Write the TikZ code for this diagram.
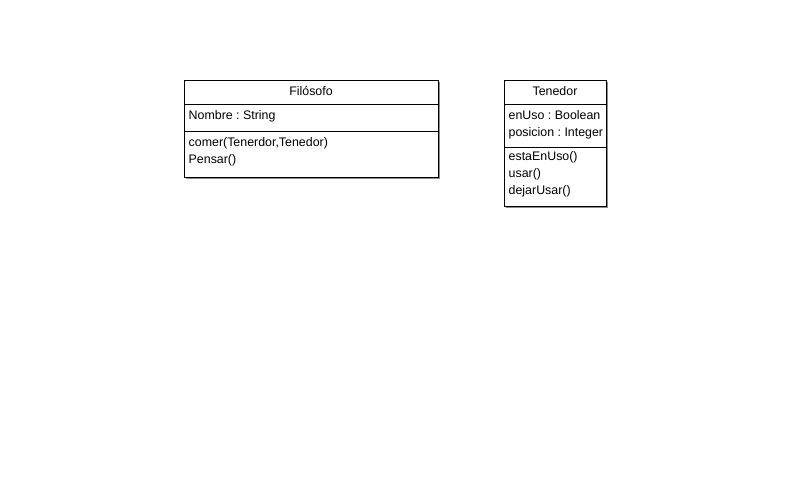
\documentclass[tikz,border=0pt]{standalone}
\usepackage{fontspec}
\setmainfont{Liberation Sans}
\frenchspacing
\begin{document}
\begin{tikzpicture}[x=1pt,y=-1pt,font=\fontsize{12.4}{14}\selectfont]
      \useasboundingbox (0,0) rectangle (790,494);
      % Filosofo
      \fill[black!45] (186,82) rectangle (440,179);
      \draw[black, fill=white] (184,80) rectangle (438,177);
      \draw[black] (184,104) -- (438,104);
      \draw[black] (184,131) -- (438,131);
      \node[anchor=base, inner sep=0] (filosofo) at (311,95.5) {Filósofo};
      \node[anchor=base west, inner sep=0] (nombre) at (188.5,119.5) {Nombre : String};
      \node[anchor=base west, inner sep=0] (comer) at (188.5,147) {comer(Tenerdor,Tenedor)};
      \node[anchor=base west, inner sep=0] (pensar) at (188.5,164) {Pensar()};
      % Tenedor
      \fill[black!45] (506,82) rectangle (608,208);
      \draw[black, fill=white] (504,80) rectangle (606,206);
      \draw[black] (504,104) -- (606,104);
      \draw[black] (504,147) -- (606,147);
      \node[anchor=base, inner sep=0] (tenedor) at (555,95.5) {Tenedor};
      \node[anchor=base west, inner sep=0] (enuso) at (508.5,119.5) {enUso : Boolean};
      \node[anchor=base west, inner sep=0] (posicion) at (508.5,136.5) {posicion : Integer};
      \node[anchor=base west, inner sep=0] (estaenuso) at (508.5,161) {estaEnUso()};
      \node[anchor=base west, inner sep=0] (usar) at (508.5,178) {usar()};
      \node[anchor=base west, inner sep=0] (dejarusar) at (508.5,195) {dejarUsar()};
\end{tikzpicture}
\end{document}
